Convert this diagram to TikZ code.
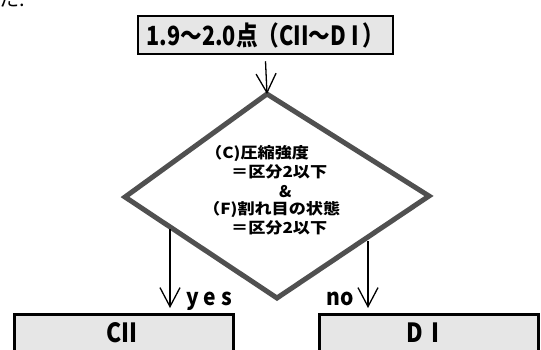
\documentclass[tikz,border=0pt]{standalone}
\usepackage{fontspec}
\usepackage{graphicx}
\setmainfont{Noto Sans CJK JP}
\usetikzlibrary{arrows.meta}
\definecolor{boxgray}{RGB}{230,230,230}
\definecolor{diagray}{RGB}{80,80,80}
\begin{document}
\begin{tikzpicture}[x=1pt,y=-1pt,
  box/.style={draw=black, line width=2.5pt, fill=boxgray, inner sep=0pt},
  conn/.style={line width=1.3pt, -{Straight Barb[length=19pt,width=20pt,line width=1.3pt]}},
  dia/.style={draw=diagray, line width=5pt, line join=miter},
  dtext/.style={anchor=base west, inner sep=0pt, font=\bfseries\fontsize{16}{16}\selectfont},
  btext/.style={inner sep=0pt, font=\bfseries\fontsize{24}{24}\selectfont},
  ltext/.style={anchor=base, inner sep=0pt, font=\bfseries\fontsize{21}{21}\selectfont},
]
\useasboundingbox (0,0) rectangle (541,349);
\node[anchor=base west, inner sep=0pt, font=\fontsize{20}{20}\selectfont] (frag) at (-1,6) {た.};
% top box
\node[box, minimum width=255pt, minimum height=38pt] (top) at (265.5,35)
  {\bfseries\fontsize{24}{24}\selectfont\scalebox{0.9}[1.1]{1.9～2.0点（CII～D\hspace{6pt}I\hspace{4pt}）}};
% diamond
\coordinate (dt) at (267,94);
\coordinate (dr) at (429,196);
\coordinate (db) at (277,298);
\coordinate (dl) at (125,197);
\draw[dia] (dt) -- (dr) -- (db) -- (dl) -- cycle;
\node[dtext] (d1) at (205,158) {\scalebox{1.07}[0.95]{（C)圧縮強度}};
\node[dtext] (d2) at (231,177) {\scalebox{1.07}[0.95]{＝区分2以下}};
\node[dtext] (d3) at (279,197) {\&};
\node[dtext] (d4) at (203,214) {\scalebox{1.07}[0.95]{（F)割れ目の状態}};
\node[dtext] (d5) at (231,233) {\scalebox{1.07}[0.95]{＝区分2以下}};
% bottom boxes
\node[box, anchor=north west, minimum width=219pt, minimum height=60pt] (cii) at (13,313) {};
\node[box, anchor=north west, minimum width=219pt, minimum height=60pt] (di) at (318,313) {};
\node[btext] (ciit) at (122,333) {\scalebox{0.95}[1.1]{CII}};
\node[btext] (dit) at (423,333) {\scalebox{0.95}[1.1]{D\hspace{9pt}I}};
% connectors
\draw[conn] ([yshift=-6pt]top.south) -- (dt);
\coordinate (ls) at (170,229);
\coordinate (rs) at (368,241);
\draw[conn, shorten >=5pt] (ls) -- (ls |- cii.north);
\draw[conn, shorten >=5pt] (rs) -- (rs |- di.north);
\node[ltext, anchor=base west] (yes) at (186,305) {\scalebox{1}[1.1]{y e s}};
\node[ltext, anchor=base east] (no) at (354,305) {\scalebox{1}[1.1]{no}};
\end{tikzpicture}
\end{document}
